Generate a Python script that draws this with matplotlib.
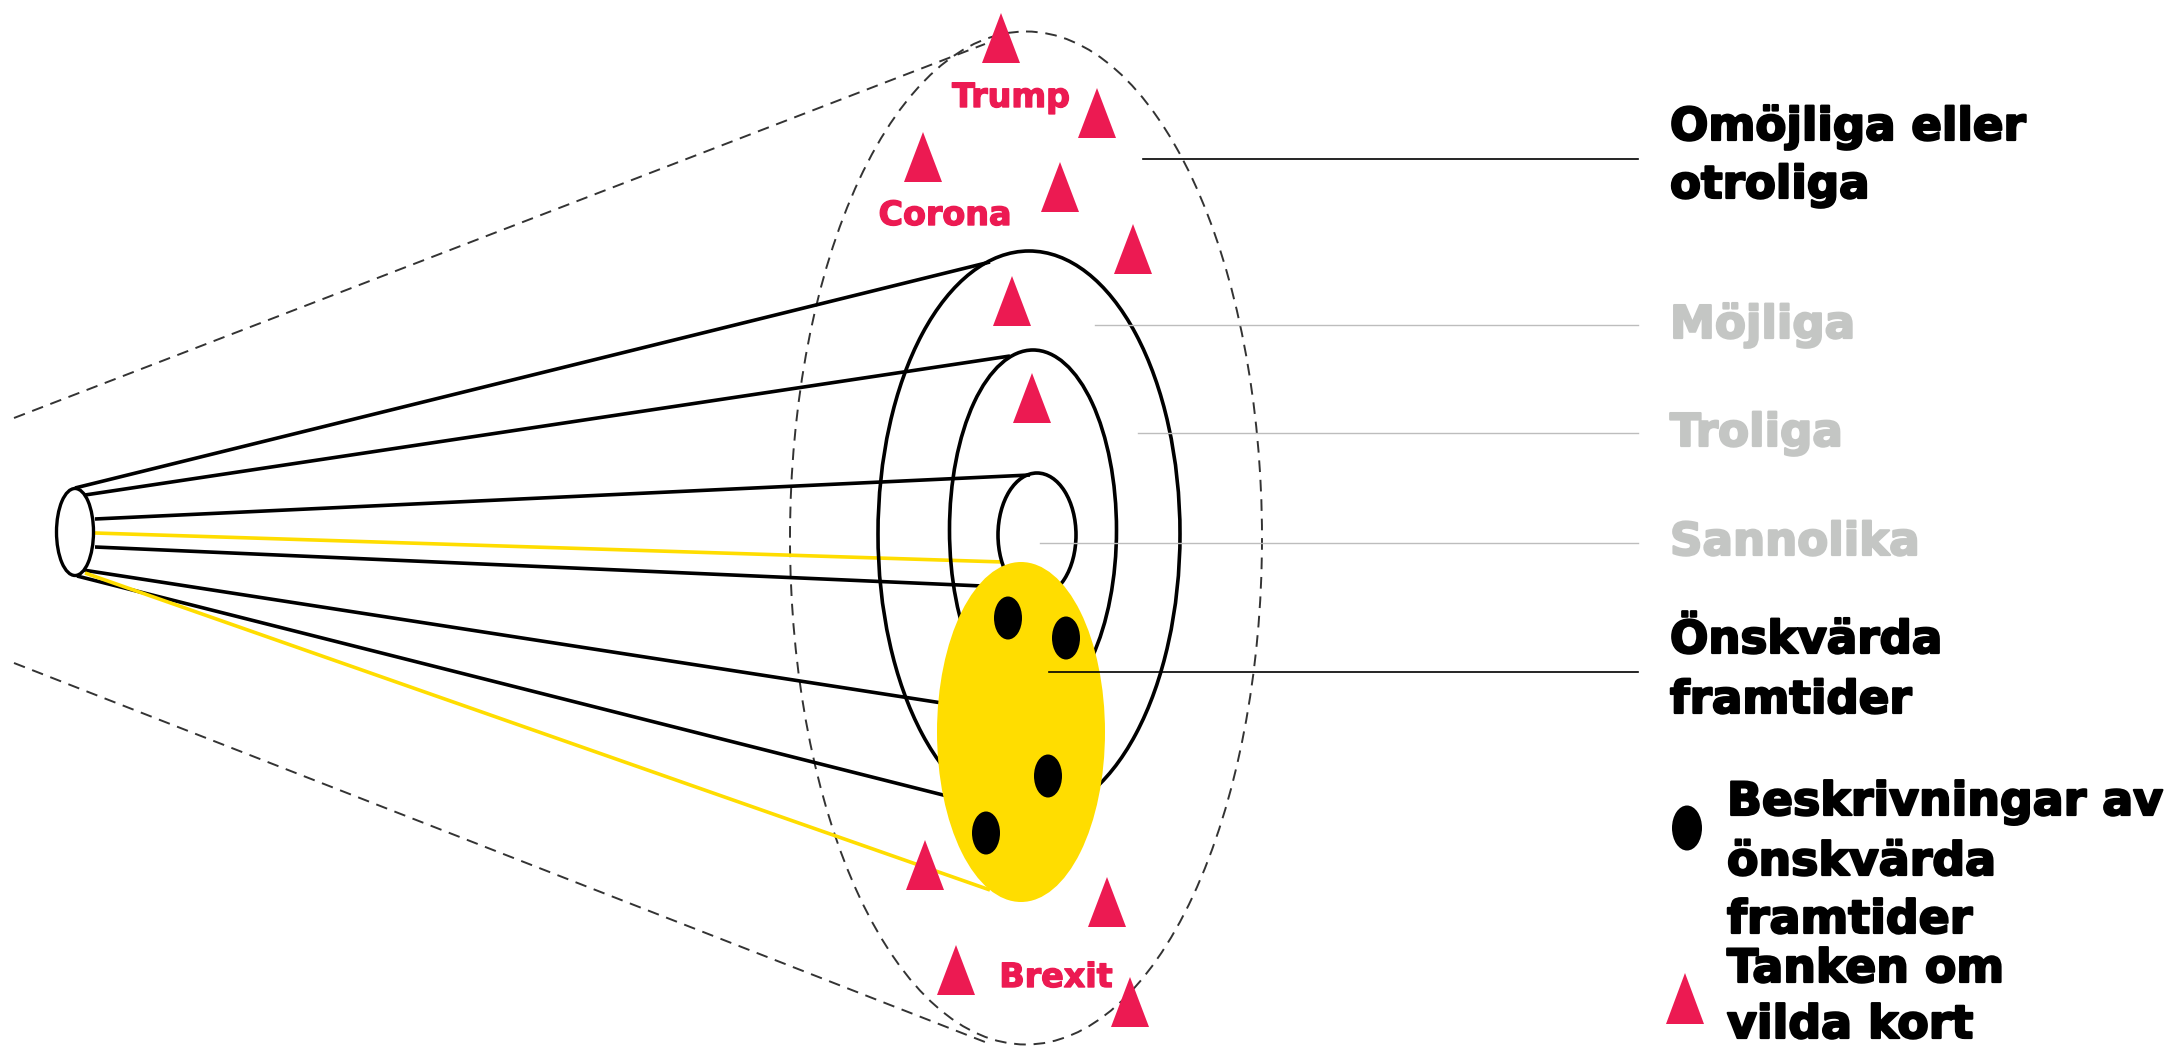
import matplotlib.pyplot as plt
import matplotlib.patheffects as pe
from matplotlib.patches import Ellipse, Polygon

W, H = 2167, 1049

# cone start (small ellipse on the left)
start_cx, start_cy, start_w, start_h = 75, 532, 37, 87

# outer dashed ellipse (impossible futures) and its cone edges
outer_cx, outer_cy, outer_w, outer_h = 1026, 538, 472, 1013
edge_x0 = [14, 14]
edge_y0 = [418, 663]
edge_x1 = [985, 985]
edge_y1 = [44, 1042]

# solid rings: possible, probable, plausible
ring_cx = [1029, 1033, 1037]
ring_cy = [534, 530, 535]
ring_w = [302, 167, 78]
ring_h = [566, 360, 124]

# rays from the cone start
ray_x0 = [75, 85, 95, 95, 95, 83, 77, 85]
ray_y0 = [488, 495, 519, 533, 547, 570, 576, 573]
ray_x1 = [990, 1010, 1030, 1003, 1005, 955, 955, 990]
ray_y1 = [262, 356, 475, 562, 587, 705, 798, 890]
ray_col = ["black", "black", "black", "yellow", "black", "black", "black", "yellow"]

# desirable futures (yellow blob) and descriptions (black dots)
wish_cx, wish_cy, wish_w, wish_h = 1021, 732, 168, 340
dot_x = [1008, 1066, 1048, 986]
dot_y = [618, 638, 776, 833]

# wild cards
tri_x = [1001, 1097, 923, 1060, 1133, 1012, 1032, 925, 1107, 956, 1130]
tri_y = [38, 113, 157, 187, 249, 301, 398, 865, 902, 970, 1002]
wild_labels = ["Trump", "Corona", "Brexit"]
wild_x = [1011, 945, 1056]
wild_y = [107, 225, 987]

# category labels on the right (one entry per text line)
cat_lines = ["Omöjliga eller", "otroliga", "Möjliga", "Troliga", "Sannolika",
             "Önskvärda", "framtider"]
cat_y = [140, 198, 338, 446, 555, 653, 713]
cat_dark = [True, True, False, False, False, True, True]
ptr_x0 = [1143, 1095, 1138, 1040, 1049]
ptr_y = [159, 325, 433, 543, 672]
ptr_dark = [True, False, False, False, True]

legend_lines = ["Beskrivningar av", "önskvärda", "framtider", "Tanken om",
                "vilda kort"]
legend_y = [815, 875, 933, 982, 1038]

RED = "#EC1A52"
YEL = "#FFDD00"
GREY = "#C4C6C4"
tri_w, tri_h = 38, 50
dot_w, dot_h = 28, 43


def heavy(color, w=1.6):
    return [pe.withStroke(linewidth=w, foreground=color)]


fig = plt.figure(figsize=(W / 100, H / 100), dpi=100)
ax = fig.add_axes([0, 0, 1, 1])
ax.set_xlim(0, W)
ax.set_ylim(H, 0)
ax.axis("off")

dash = (0, (6, 4))
ax.add_patch(Ellipse((outer_cx, outer_cy), outer_w, outer_h, fill=False,
                     ec="#333333", lw=1.4, ls=dash, zorder=1))
for i in range(2):
    ax.plot([edge_x0[i], edge_x1[i]], [edge_y0[i], edge_y1[i]],
            color="#333333", lw=1.4, ls=dash, zorder=1)

for i in range(len(ray_x0)):
    c = YEL if ray_col[i] == "yellow" else "black"
    ax.plot([ray_x0[i], ray_x1[i]], [ray_y0[i], ray_y1[i]], color=c,
            lw=2.6, solid_capstyle="butt", zorder=2)

ax.add_patch(Ellipse((start_cx, start_cy), start_w, start_h, fc="white",
                     ec="black", lw=2.4, zorder=3))
for i in range(len(ring_cx)):
    ax.add_patch(Ellipse((ring_cx[i], ring_cy[i]), ring_w[i], ring_h[i],
                         fill=False, ec="black", lw=2.6, zorder=3))

for i in range(len(tri_x)):
    pts = [(tri_x[i], tri_y[i] - tri_h / 2),
           (tri_x[i] - tri_w / 2, tri_y[i] + tri_h / 2),
           (tri_x[i] + tri_w / 2, tri_y[i] + tri_h / 2)]
    ax.add_patch(Polygon(pts, closed=True, fc=RED, ec="none", zorder=4))

ax.add_patch(Ellipse((wish_cx, wish_cy), wish_w, wish_h, fc=YEL, ec="none",
                     zorder=5))
for x, y in zip(dot_x, dot_y):
    ax.add_patch(Ellipse((x, y), dot_w, dot_h, fc="black", ec="none", zorder=6))

for i in range(len(wild_labels)):
    ax.text(wild_x[i], wild_y[i], wild_labels[i], color=RED, fontsize=24,
            fontweight="bold", ha="center", va="baseline", zorder=7,
            path_effects=heavy(RED, 1.0))

for i in range(len(ptr_y)):
    lc = "black" if ptr_dark[i] else "#BDBDBD"
    ax.plot([ptr_x0[i], 1638], [ptr_y[i], ptr_y[i]], color=lc,
            lw=1.2 if ptr_dark[i] else 1.0, zorder=7)

for i in range(len(cat_lines)):
    c = "black" if cat_dark[i] else GREY
    ax.text(1670, cat_y[i], cat_lines[i], color=c, fontsize=32.5,
            fontweight="bold", ha="left", va="baseline", zorder=7,
            path_effects=heavy(c))

# legend
ax.add_patch(Ellipse((1687, 828), 30, 45, fc="black", ec="none"))
ax.add_patch(Polygon([(1685, 973), (1666, 1024), (1704, 1024)], closed=True,
                     fc=RED, ec="none"))
for i in range(len(legend_lines)):
    ax.text(1727, legend_y[i], legend_lines[i], color="black", fontsize=33,
            fontweight="bold", ha="left", va="baseline",
            path_effects=heavy("black"))

plt.savefig("out.png", dpi=100)
